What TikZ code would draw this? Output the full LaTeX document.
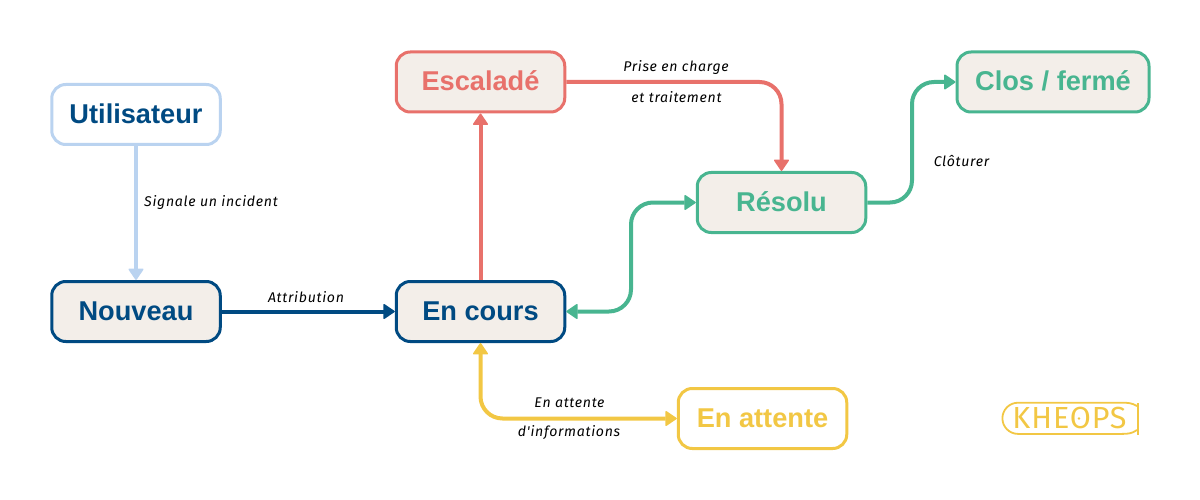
\documentclass[tikz,border=0pt]{standalone}
\usepackage{fontspec}
\usetikzlibrary{arrows.meta,calc}
\setmainfont{Liberation Sans}
\newfontfamily\titlefont{Liberation Sans}
\newfontfamily\labelfont[LetterSpace=5]{Fira Sans}
\newfontfamily\logofont[LetterSpace=3]{Fira Sans}
\definecolor{navy}{HTML}{004A82}
\definecolor{sky}{HTML}{BAD3F0}
\definecolor{coral}{HTML}{E8716B}
\definecolor{jade}{HTML}{48B590}
\definecolor{gold}{HTML}{F2C744}
\definecolor{cream}{HTML}{F3EEE9}
\tikzset{
  x=1pt,y=-1pt,
  box/.style={draw=#1,line width=3pt,rounded corners=14pt,fill=cream,minimum width=168.5pt,minimum height=60pt,inner sep=0pt,
    font=\titlefont\fontsize{27.2}{30}\selectfont\bfseries,text height=18pt,text depth=0pt},
  link/.style={draw=#1,line width=4pt,rounded corners=22pt,
    -{Triangle[length=12pt,width=16pt,round,line width=1.5pt,fill=#1]}},
  link2/.style={draw=#1,line width=4pt,rounded corners=22pt,
    {Triangle[length=12pt,width=16pt,round,line width=1.5pt,fill=#1]}-{Triangle[length=12pt,width=16pt,round,line width=1.5pt,fill=#1]}},
  edgetext/.style={font=\labelfont\itshape\fontsize{14.1}{16}\selectfont,text=black,inner sep=0pt},
}
\begin{document}
\begin{tikzpicture}
\useasboundingbox (0,0) rectangle (1200,500);
\node[box=sky,fill=white,text=navy] (user) at (136,114.5) {Utilisateur};
\node[box=navy,text=navy] (new) at (136,311.5) {Nouveau};
\node[box=navy,text=navy] (cours) at (480.5,311.5) {En cours};
\node[box=coral,text=coral] (esc) at (480.5,82) {Escaladé};
\node[box=jade,text=jade] (res) at (781.5,202.5) {Résolu};
\node[box=jade,text=jade,minimum width=192pt] (clos) at (1053,82) {Clos / fermé};
\node[box=gold,fill=white,text=gold] (att) at (762.5,418.5) {En attente};

\draw[link=sky] (user.south) -- (new.north);
\draw[link=navy] (new.east) -- (cours.west);
\draw[link=coral] (cours.north) -- (esc.south);
\draw[link=coral] (esc.east) -| (res.north);
\coordinate (m1) at (631,0);
\draw[link2=jade] (cours.east) -| (m1 |- res.west) -- (res.west);
\coordinate (m2) at (912,0);
\draw[link=jade] (res.east) -| (m2 |- clos.west) -- (clos.west);
\draw[link2=gold] (cours.south) |- (att.west);

\node[edgetext] (t1) at (211,203) {Signale un incident};
\node[edgetext] (t2) at (306,297.5) {Attribution};
\node[edgetext] (t3) at (676,67.5) {Prise en charge};
\node[edgetext] (t4) at (676.5,97.5) {et traitement};
\node[edgetext] (t5) at (961.5,161) {Clôturer};
\node[edgetext] (t6) at (569.5,403) {En attente};
\node[edgetext] (t7) at (569,433) {d'informations};

\draw[gold,line width=1.8pt] (1137,406) .. controls (1132,403) and (1128,402.7) .. (1122,402.7) -- (1018,402.7) arc[start angle=-90,end angle=-270,radius=15.6] -- (1122,433.9) .. controls (1128,433.9) and (1132,433.5) .. (1137,430);
\draw[gold,line width=1.5pt] (1138,403) -- (1138,435);
\node[font=\logofont\fontsize{30.5}{32}\selectfont,text=gold,inner sep=0pt] (logo) at (1069.5,418) {KHEOPS};
\fill[gold] (1079,418.5) circle[radius=1.3];
\end{tikzpicture}
\end{document}
